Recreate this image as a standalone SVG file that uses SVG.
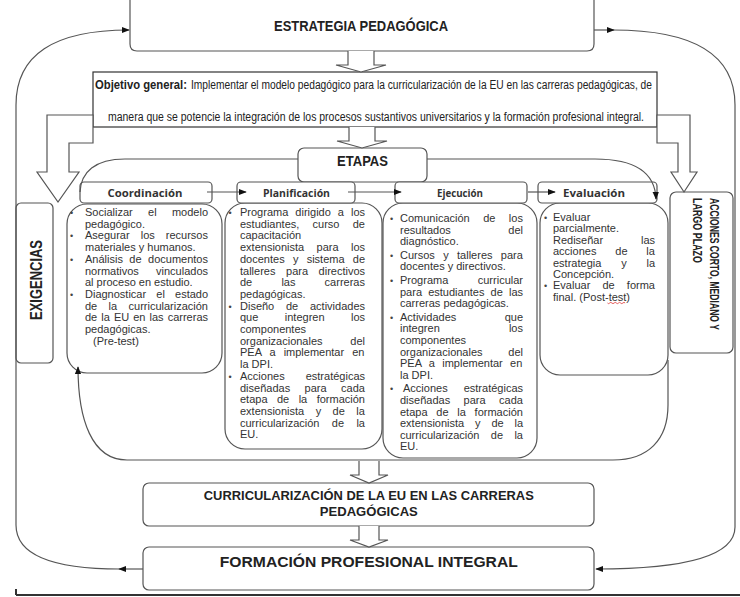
<svg xmlns="http://www.w3.org/2000/svg" width="740" height="597" viewBox="0 0 740 597">
<defs>
<marker id="ah" viewBox="0 0 10 10" refX="9" refY="5" markerWidth="8" markerHeight="8" markerUnits="userSpaceOnUse" orient="auto"><path d="M0,1 L10,5 L0,9 z" fill="#111"/></marker>
<style>
.ln{fill:none;stroke:#555;stroke-width:1.2}
.box{fill:#fff;stroke:#555;stroke-width:1.2}
.ha{fill:#fff;stroke:#555;stroke-width:1.2}
.t{font-family:"Liberation Sans",Arial,sans-serif;font-size:11px;fill:#333}
.bu{font-family:"Liberation Sans",Arial,sans-serif;font-size:9px;fill:#444}
.hd{font-family:"Open Sans","Liberation Sans",sans-serif;font-weight:700;font-size:10.5px;fill:#333;text-anchor:middle}
.bd{font-family:"Liberation Sans",Arial,sans-serif;font-weight:700;fill:#222}
.ob{font-family:"Liberation Sans Narrow","Arial Narrow","Liberation Sans",sans-serif;font-size:12px;fill:#222}
</style>
</defs>
<rect width="740" height="597" fill="#fff"/>

<g id="n-estrategia">
<path class="box" d="M130,0 V44 Q130,51 137,51 H587 Q594,51 594,44 V0"/>
<text class="bd" x="361" y="31" font-size="15" text-anchor="middle" textLength="174" lengthAdjust="spacingAndGlyphs">ESTRATEGIA PEDAGÓGICA</text>
</g>

<g id="n-objetivo">
<rect x="93" y="72" width="564" height="55" fill="#fff" stroke="#333" stroke-width="1.2"/>
<text class="ob" x="95" y="89" font-weight="700" textLength="92" lengthAdjust="spacingAndGlyphs">Objetivo general:</text>
<text class="ob" x="191" y="89" textLength="461" lengthAdjust="spacingAndGlyphs">Implementar el modelo pedagógico para la curricularización de la EU en las carreras pedagógicas, de</text>
<text class="ob" x="108" y="120.5" textLength="536" lengthAdjust="spacingAndGlyphs">manera que se potencie la integración de los procesos sustantivos universitarios y la formación profesional integral.</text>
</g>

<g id="n-etapas">
<rect class="box" x="298" y="148" width="129" height="34" rx="6"/>
<text class="bd" x="362.5" y="166" font-size="14" text-anchor="middle" textLength="51" lengthAdjust="spacingAndGlyphs">ETAPAS</text>
</g>

<g id="n-exigencias">
<rect class="box" x="16" y="203" width="37" height="160" rx="5"/>
<text class="bd" font-size="17" text-anchor="middle" transform="translate(42,280) rotate(-90)" textLength="80" lengthAdjust="spacingAndGlyphs">EXIGENCIAS</text>
</g>

<g id="n-acciones">
<rect class="box" x="670" y="192" width="63" height="161" rx="6"/>
<text class="bd" font-size="13.5" transform="translate(710,198) rotate(90)" textLength="132" lengthAdjust="spacingAndGlyphs">ACCIONES CORTO, MEDIANO Y</text>
<text class="bd" font-size="13.5" transform="translate(693,198) rotate(90)" textLength="65" lengthAdjust="spacingAndGlyphs">LARGO PLAZO</text>
</g>

<g id="n-coordinacion">
<rect class="box" x="67" y="204" width="155" height="169" rx="20"/>
<text class="bu" x="70" y="216">•</text>
<text class="t" x="85" y="216" style="word-spacing:12.3px">Socializar el modelo</text>
<text class="t" x="85" y="227.7">pedagógico.</text>
<text class="bu" x="70" y="239.4">•</text>
<text class="t" x="85" y="239.4" style="word-spacing:8px">Asegurar los recursos</text>
<text class="t" x="85" y="251.1">materiales y humanos.</text>
<text class="bu" x="70" y="262.8">•</text>
<text class="t" x="85" y="262.8" style="word-spacing:3.4px">Análisis de documentos</text>
<text class="t" x="85" y="274.5" style="word-spacing:14.2px">normativos vinculados</text>
<text class="t" x="85" y="286.2">al proceso en estudio.</text>
<text class="bu" x="70" y="297.9">•</text>
<text class="t" x="85" y="297.9" style="word-spacing:7.1px">Diagnosticar el estado</text>
<text class="t" x="85" y="309.6" style="word-spacing:8.3px">de la curricularización</text>
<text class="t" x="85" y="321.3" style="word-spacing:1px">de la EU en las carreras</text>
<text class="t" x="85" y="333">pedagógicas.</text>
<text class="t" x="93" y="344.7">(Pre-test)</text>
</g>

<g id="n-planificacion">
<rect class="box" x="225" y="203" width="157" height="246" rx="20"/>
<text class="bu" x="228.5" y="216">•</text>
<text class="t" x="240" y="216" style="word-spacing:4px">Programa dirigido a los</text>
<text class="t" x="240" y="227.7" style="word-spacing:10.2px">estudiantes, curso de</text>
<text class="t" x="240" y="239.4">capacitación</text>
<text class="t" x="240" y="251.1" style="word-spacing:9.3px">extensionista para los</text>
<text class="t" x="240" y="262.8" style="word-spacing:5.2px">docentes y sistema de</text>
<text class="t" x="240" y="274.5" style="word-spacing:7.5px">talleres para directivos</text>
<text class="t" x="240" y="286.2" style="word-spacing:26.1px">de las carreras</text>
<text class="t" x="240" y="297.9">pedagógicas.</text>
<text class="bu" x="228.5" y="309.6">•</text>
<text class="t" x="240" y="309.6" style="word-spacing:8.7px">Diseño de actividades</text>
<text class="t" x="240" y="321.3" style="word-spacing:23.4px">que integren los</text>
<text class="t" x="240" y="333">componentes</text>
<text class="t" x="240" y="344.7" style="word-spacing:24.7px">organizacionales del</text>
<text class="t" x="240" y="356.4" style="word-spacing:5px">PEA a implementar en</text>
<text class="t" x="240" y="368.1">la DPI.</text>
<text class="bu" x="228.5" y="379.8">•</text>
<text class="t" x="240" y="379.8" style="word-spacing:18px">Acciones estratégicas</text>
<text class="t" x="240" y="391.5" style="word-spacing:11.4px">diseñadas para cada</text>
<text class="t" x="240" y="403.2" style="word-spacing:6.4px">etapa de la formación</text>
<text class="t" x="240" y="414.9" style="word-spacing:8.4px">extensionista y de la</text>
<text class="t" x="240" y="426.6" style="word-spacing:9.3px">curricularización de la</text>
<text class="t" x="240" y="438.3">EU.</text>
</g>

<g id="n-ejecucion">
<rect class="box" x="383" y="203" width="154" height="255" rx="20"/>
<text class="bu" x="390" y="222">•</text>
<text class="t" x="400" y="222" style="word-spacing:10.4px">Comunicación de los</text>
<text class="t" x="400" y="233.6" style="word-spacing:54.5px">resultados del</text>
<text class="t" x="400" y="245.2">diagnóstico.</text>
<text class="bu" x="390" y="258.8">•</text>
<text class="t" x="400" y="258.8" style="word-spacing:5.3px">Cursos y talleres para</text>
<text class="t" x="400" y="270.4">docentes y directivos.</text>
<text class="bu" x="390" y="284">•</text>
<text class="t" x="400" y="284" style="word-spacing:26.4px">Programa curricular</text>
<text class="t" x="400" y="295.6" style="word-spacing:3.1px">para estudiantes de las</text>
<text class="t" x="400" y="307.2">carreras pedagógicas.</text>
<text class="bu" x="390" y="320.8">•</text>
<text class="t" x="400" y="320.8" style="word-spacing:45.4px">Actividades que</text>
<text class="t" x="400" y="332.4" style="word-spacing:66.1px">integren los</text>
<text class="t" x="400" y="344">componentes</text>
<text class="t" x="400" y="355.6" style="word-spacing:22.7px">organizacionales del</text>
<text class="t" x="400" y="367.2" style="word-spacing:4.3px">PEA a implementar en</text>
<text class="t" x="400" y="378.8">la DPI.</text>
<text class="bu" x="390" y="392.4">•</text>
<text class="t" x="403" y="392.4" style="word-spacing:13px">Acciones estratégicas</text>
<text class="t" x="400" y="404" style="word-spacing:10.4px">diseñadas para cada</text>
<text class="t" x="400" y="415.6" style="word-spacing:5.7px">etapa de la formación</text>
<text class="t" x="400" y="427.2" style="word-spacing:7.8px">extensionista y de la</text>
<text class="t" x="400" y="438.8" style="word-spacing:8.3px">curricularización de la</text>
<text class="t" x="400" y="450.4">EU.</text>
</g>

<g id="n-evaluacion">
<rect class="box" x="540" y="203" width="128" height="172" rx="20"/>
<text class="bu" x="544" y="221">•</text>
<text class="t" x="553" y="221">Evaluar</text>
<text class="t" x="553" y="232.4">parcialmente.</text>
<text class="t" x="553" y="243.8" style="word-spacing:34.8px">Rediseñar las</text>
<text class="t" x="553" y="255.2" style="word-spacing:15.8px">acciones de la</text>
<text class="t" x="553" y="266.6" style="word-spacing:16.8px">estrategia y la</text>
<text class="t" x="553" y="278">Concepción.</text>
<text class="bu" x="544" y="289.4">•</text>
<text class="t" x="553" y="289.4" style="word-spacing:9.1px">Evaluar de forma</text>
<text class="t" x="553" y="300.8">final. (Post-test)</text>
<path d="M607.5,303 q1.1,1.3 2.2,0 t2.2,0 t2.2,0 t2.2,0 t2.2,0 t2.2,0 t2.2,0 t2.2,0" fill="none" stroke="#d33" stroke-width="0.8"/>
</g>

<g id="n-coordinacion-h">
<rect class="box" x="80" y="182" width="132" height="21" rx="4"/>
<text class="hd" x="145" y="196.5" textLength="75" lengthAdjust="spacingAndGlyphs">Coordinación</text>
</g>
<g id="n-planificacion-h">
<rect class="box" x="237" y="182" width="118" height="21" rx="4"/>
<text class="hd" x="296.5" y="196.5" textLength="67" lengthAdjust="spacingAndGlyphs">Planificación</text>
</g>
<g id="n-ejecucion-h">
<rect class="box" x="395" y="182" width="132" height="21" rx="4"/>
<text class="hd" x="460" y="196.5" textLength="46" lengthAdjust="spacingAndGlyphs">Ejecución</text>
</g>
<g id="n-evaluacion-h">
<rect class="box" x="538" y="182" width="119" height="21" rx="4"/>
<text class="hd" x="594" y="196.5" textLength="62" lengthAdjust="spacingAndGlyphs">Evaluación</text>
</g>

<g id="n-curricularizacion">
<rect class="box" x="143" y="483" width="451" height="43" rx="6"/>
<text class="bd" x="368.8" y="499.5" font-size="13" text-anchor="middle" textLength="330" lengthAdjust="spacingAndGlyphs">CURRICULARIZACIÓN DE LA EU EN LAS CARRERAS</text>
<text class="bd" x="368.8" y="516" font-size="13" text-anchor="middle" textLength="98" lengthAdjust="spacingAndGlyphs">PEDAGÓGICAS</text>
</g>

<g id="n-formacion">
<rect class="box" x="143" y="547" width="451" height="43" rx="6"/>
<text class="bd" x="368.8" y="567" font-size="15.5" text-anchor="middle" textLength="298" lengthAdjust="spacingAndGlyphs">FORMACIÓN PROFESIONAL INTEGRAL</text>
</g>

<g id="connectors">
<path class="ln" d="M594,30 H614" marker-end="url(#ah)"/>
<path class="ln" d="M613,30 Q735,30 735,105 V527 Q735,569 596,569" marker-end="url(#ah)"/>
<path class="ln" d="M143,569 H119" marker-end="url(#ah)"/>
<path class="ln" d="M120,569 Q16,569 16,525 V105 Q16,30 129,30" marker-end="url(#ah)"/>
<path d="M16,595 H740 M16,589 V595" fill="none" stroke="#333" stroke-width="2"/>
<path class="ha" d="M348,51 V65 H336 L361,72 L386,65 H374 V51"/>
<path class="ha" d="M349,127 V141 H337 L362,148 L387,141 H375 V127"/>
<path class="ha" d="M359,461 V475 H350 L369,483 L388,475 H379 V461"/>
<path class="ha" d="M359,526 V540 H350 L369,547 L388,540 H379 V526"/>
<path class="ha" d="M93,115 H47 V172 H37 L58,202 L79,172 H69 V143 H93 Z"/>
<path class="ha" d="M657,115 H690 V172 H697 L684,192 L671,172 H678 V143 H657 Z"/>
<path class="ln" d="M298,159 H125 C95,159 81,172 80,192"/>
<path class="ln" d="M427,159 H595 C632,159 655,170 656,199" marker-end="url(#ah)"/>
<path class="ln" d="M668,360 V405 C668,440 648,460 613,460 H127 C92,460 78,420 78,367" marker-end="url(#ah)"/>
<path class="ln" d="M207,192 H246" marker-end="url(#ah)"/>
<path class="ln" d="M348,192 H401" marker-end="url(#ah)"/>
<path class="ln" d="M528,192 H555" marker-end="url(#ah)"/>
</g>
</svg>
